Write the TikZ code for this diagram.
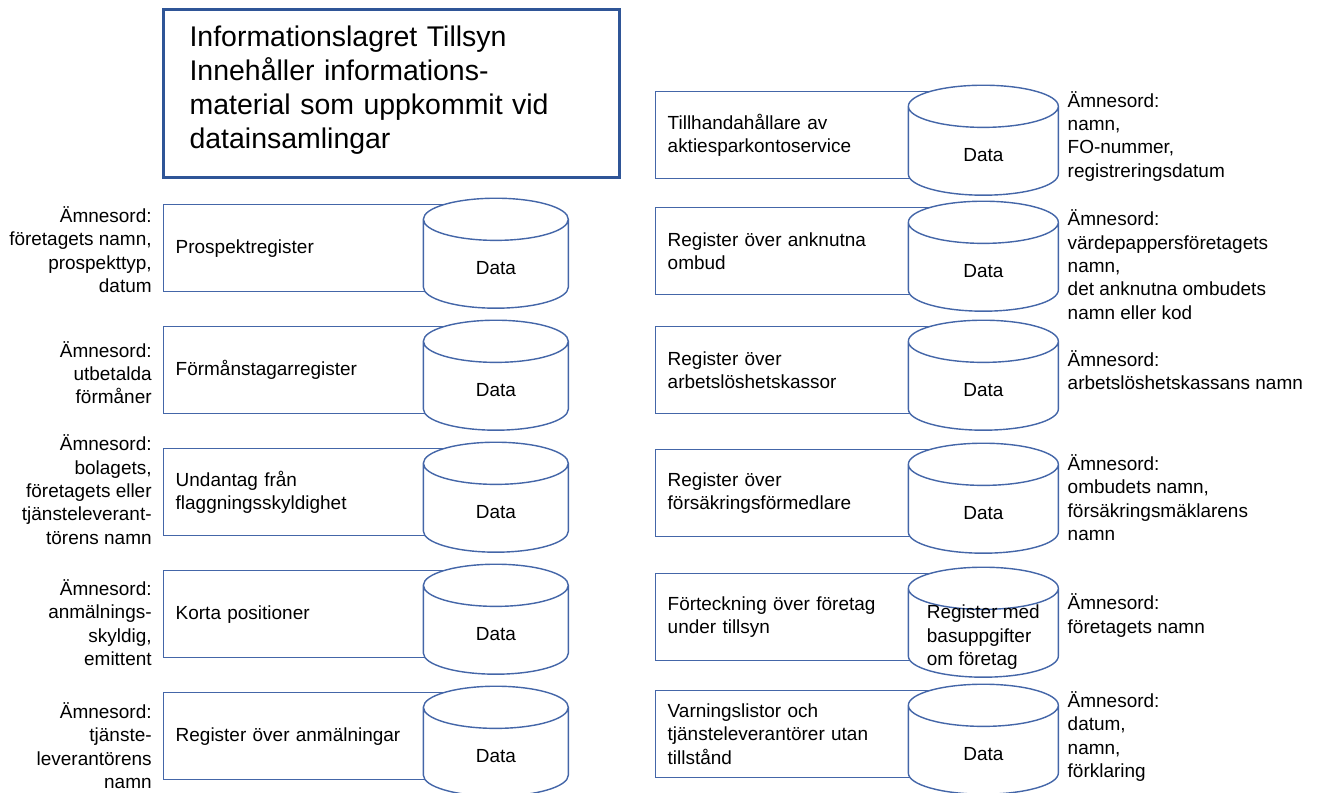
\documentclass[tikz,border=0pt]{standalone}
\usepackage{fontspec}
\setmainfont{Liberation Sans}
\usetikzlibrary{shapes.geometric,calc}

\definecolor{titleblue}{RGB}{47,85,151}
\definecolor{boxblue}{RGB}{68,102,168}

\tikzset{
    txt/.style={font=\fontsize{10.8}{13.3}\selectfont},
    titlebox/.style={draw=titleblue, line width=1.8pt, anchor=north west,
        minimum height=3.36cm, inner xsep=0.52cm, text width=8.08cm,
        text depth=65.5pt, align=left, font=\fontsize{16.2}{19.3}\selectfont},
    regbox/.style={txt, draw=boxblue, line width=0.8pt, anchor=north west,
        minimum height=1.74cm, inner xsep=0.24cm, text width=#1, align=left},
    datacyl/.style={draw=boxblue, line width=0.8pt, fill=white, cylinder,
        shape border rotate=90, aspect=3.6, minimum width=#1,
        minimum height=2.2cm, anchor=shape center},
    datatxt/.style={txt, align=left, inner sep=0pt},
    keyleft/.style={txt, anchor=east, align=right, inner sep=0pt},
    keyright/.style={txt, anchor=west, align=left, inner sep=0pt},
}

\begin{document}
\begin{tikzpicture}[x=0.02cm, y=-0.02cm]
    \useasboundingbox (0,0) rectangle (1318,792);

    \node[titlebox] (title) at (162,8) {Informationslagret Tillsyn\\
        Innehåller informations-\\material som uppkommit vid\\datainsamlingar};

    % left column
    \foreach[count=\i] \lkey/\lname/\ldy in {
        {Ämnesord:\\företagets namn,\\prospekttyp,\\datum}/Prospektregister/1.5,
        {Ämnesord:\\utbetalda\\förmåner}/Förmånstagarregister/2.5,
        {Ämnesord:\\bolagets,\\företagets eller\\tjänsteleverant-\\törens namn}/{Undantag från\\flaggningsskyldighet}/-2.5,
        {Ämnesord:\\anmälnings-\\skyldig,\\emittent}/Korta positioner/8.5,
        {Ämnesord:\\tjänste-\\leverantörens\\namn}/Register över anmälningar/9.5%
    } {
        \pgfmathsetmacro\ltop{204+122*(\i-1)}
        \node[regbox=6.14cm] (l-\i) at (163,\ltop) {\lname};
        \node[datacyl=2.9cm] (ld-\i) at ($(l-\i.east)+(0.5,5)$) {};
        \node[datatxt] (ldt-\i) at ($(ld-\i.shape center)+(0,15)$) {Data};
        \node[keyleft] (lk-\i) at ($(l-\i.west)+(-11,\ldy)$) {\lkey};
    }

    % right column
    \foreach[count=\i] \rtop/\rname/\rdata/\rkey/\rdy in {
        91/{Tillhandahållare av\\aktiesparkontoservice}/Data/{Ämnesord:\\namn,\\FO-nummer,\\registreringsdatum}/1,
        207/{Register över anknutna\\ombud}/Data/{Ämnesord:\\värdepappersföretagets\\namn,\\det anknutna ombudets\\namn eller kod}/13.5,
        326/{Register över\\arbetslöshetskassor}/Data/{Ämnesord:\\arbetslöshetskassans namn}/0,
        449/{Register över\\försäkringsförmedlare}/Data/{Ämnesord:\\ombudets namn,\\försäkringsmäklarens\\namn}/4.5,
        573/{Förteckning över företag\\under tillsyn}/{Register med\\basuppgifter\\om företag}/{Ämnesord:\\företagets namn}/-1.5,
        690/{Varningslistor och\\tjänsteleverantörer utan\\tillstånd}/Data/{Ämnesord:\\datum,\\namn,\\förklaring}/2.5%
    } {
        \node[regbox=6.06cm] (r-\i) at (655,\rtop) {\rname};
        \node[datacyl=3cm] (rd-\i) at ($(r-\i.east)+(0,5)$) {};
        \node[datatxt] (rdt-\i) at ($(rd-\i.shape center)+(0,15)$) {\rdata};
        \node[keyright] (rk-\i) at ($(r-\i.east)+(84,\rdy)$) {\rkey};
    }
\end{tikzpicture}
\end{document}
